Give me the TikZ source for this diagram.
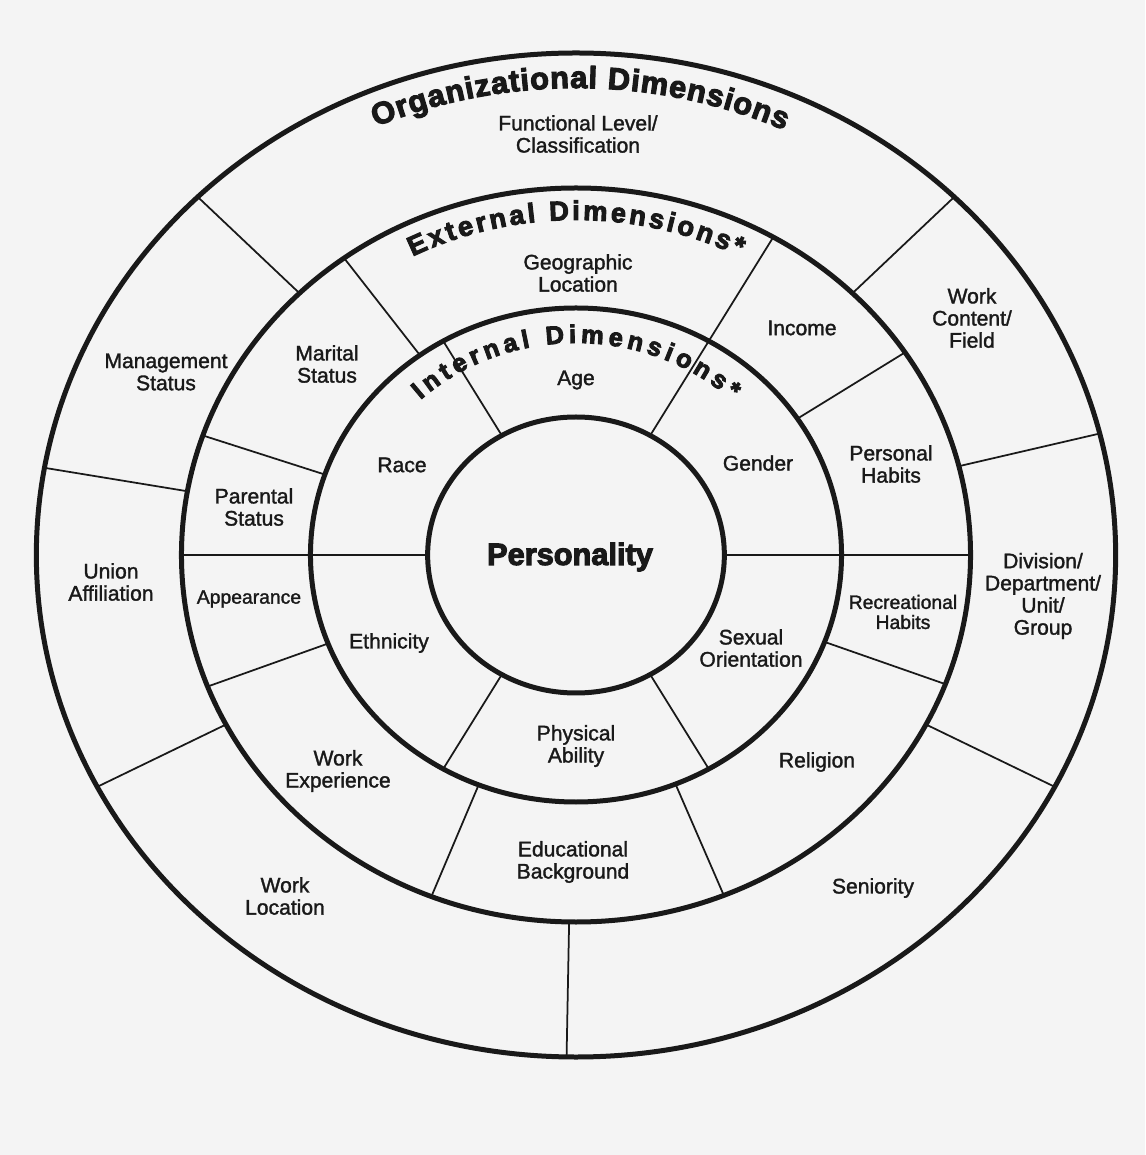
\documentclass[tikz,border=0pt]{standalone}
\usepackage{fontspec}
\setmainfont{Liberation Sans}[FakeBold=1.5]
\newfontfamily\heavyfont{Liberation Sans Bold}[FakeBold=3.6]
\usetikzlibrary{decorations.text}

\definecolor{paper}{gray}{0.955}
\definecolor{ink}{gray}{0.1}

\begin{document}
\begin{tikzpicture}[x=0.02cm, y=0.02cm,
        dim/.style={align=center, inner sep=0pt, text=ink, font=\fontsize{12}{12.6}\selectfont},
        small dim/.style={dim, font=\fontsize{11}{11.4}\selectfont},
        rim/.style={draw=ink, line width=0.1cm},
        spoke/.style={draw=ink, line width=0.035cm}]

        % page
        \fill[paper] (-576,-600) rectangle (569,555);
        \useasboundingbox (-576,-600) rectangle (569,555);

        % rings and spokes (the scan is a little wider than tall)
        \begin{scope}[xscale=1.075]
        \draw[rim] (0,0) circle[radius=502];
        \draw[rim] (0,0) circle[radius=367];
        \draw[rim] (0,0) circle[radius=247];
        \draw[rim] (0,0) circle[radius=138];

        % organizational ring
        \draw[spoke] (14:367) -- (14:502);
        \draw[spoke] (45.5:367) -- (45.5:502);
        \draw[spoke] (134.5:367) -- (134.5:502);
        \draw[spoke] (170:367) -- (170:502);
        \draw[spoke] (207.5:367) -- (207.5:502);
        \draw[spoke] (269:367) -- (269:502);
        \draw[spoke] (332.5:367) -- (332.5:502);

        % external ring
        \draw[spoke] (0:247) -- (0:367);
        \draw[spoke] (33.5:247) -- (33.5:367);
        \draw[spoke] (60:247) -- (60:367);
        \draw[spoke] (126:247) -- (126:367);
        \draw[spoke] (161:247) -- (161:367);
        \draw[spoke] (180:247) -- (180:367);
        \draw[spoke] (201:247) -- (201:367);
        \draw[spoke] (248.5:247) -- (248.5:367);
        \draw[spoke] (292:247) -- (292:367);
        \draw[spoke] (339.4:247) -- (339.4:367);

        % internal ring
        \draw[spoke] (0:138) -- (0:247);
        \draw[spoke] (60:138) -- (60:247);
        \draw[spoke] (120:138) -- (120:247);
        \draw[spoke] (180:138) -- (180:247);
        \draw[spoke] (240:138) -- (240:247);
        \draw[spoke] (300:138) -- (300:247);
        \end{scope}

        % ring titles
        \path[decorate, decoration={text along path, text align={fit to path},
                text={|\heavyfont\fontsize{17.5}{17.5}\selectfont\color{ink}|Organizational Dimensions}}]
                (113.5:502 and 467) arc[start angle=113.5, end angle=65.5, x radius=502, y radius=467];
        \path[decorate, decoration={text along path, text align={fit to path},
                text={|\heavyfont\fontsize{15.5}{15.5}\selectfont\color{ink}|External Dimensions*}}]
                (117:360 and 335) arc[start angle=117, end angle=63, x radius=360, y radius=335];
        \path[decorate, decoration={text along path, text align={fit to path},
                text={|\heavyfont\fontsize{14.5}{14.5}\selectfont\color{ink}|Internal Dimensions*}}]
                (133:228 and 212) arc[start angle=133, end angle=47, x radius=228, y radius=212];

        % organizational dimensions
        \node[dim] (functional) at (2,421) {Functional Level/\\Classification};
        \node[dim] (workcontent) at (396,237) {Work\\Content/\\Field};
        \node[dim] (division) at (467,-41) {Division/\\Department/\\Unit/\\Group};
        \node[dim] (seniority) at (297,-333) {Seniority};
        \node[dim] (worklocation) at (-291,-341) {Work\\Location};
        \node[dim] (union) at (-465,-27) {Union\\Affiliation};
        \node[dim] (management) at (-410,183) {Management\\Status};

        % external dimensions
        \node[dim] (geographic) at (2,282) {Geographic\\Location};
        \node[dim] (income) at (226,227) {Income};
        \node[dim] (personalhabits) at (315,91) {Personal\\Habits};
        \node[small dim] (recreational) at (327,-57) {Recreational\\Habits};
        \node[dim] (religion) at (241,-207) {Religion};
        \node[dim] (educational) at (-3,-307) {Educational\\Background};
        \node[dim] (workexperience) at (-238,-216) {Work\\Experience};
        \node[small dim] (appearance) at (-327,-44) {Appearance};
        \node[dim] (parental) at (-322,48) {Parental\\Status};
        \node[dim] (marital) at (-249,191) {Marital\\Status};

        % internal dimensions
        \node[dim] (age) at (0,175) {Age};
        \node[dim] (gender) at (182,92) {Gender};
        \node[dim] (sexual) at (175,-93) {Sexual\\Orientation};
        \node[dim] (physical) at (0,-191) {Physical\\Ability};
        \node[dim] (ethnicity) at (-187,-88) {Ethnicity};
        \node[dim] (race) at (-174,90) {Race};

        \node[inner sep=0pt, text=ink, font=\heavyfont\fontsize{17.5}{17.5}\selectfont] (personality) at (-6,-2) {Personality};
\end{tikzpicture}
\end{document}
